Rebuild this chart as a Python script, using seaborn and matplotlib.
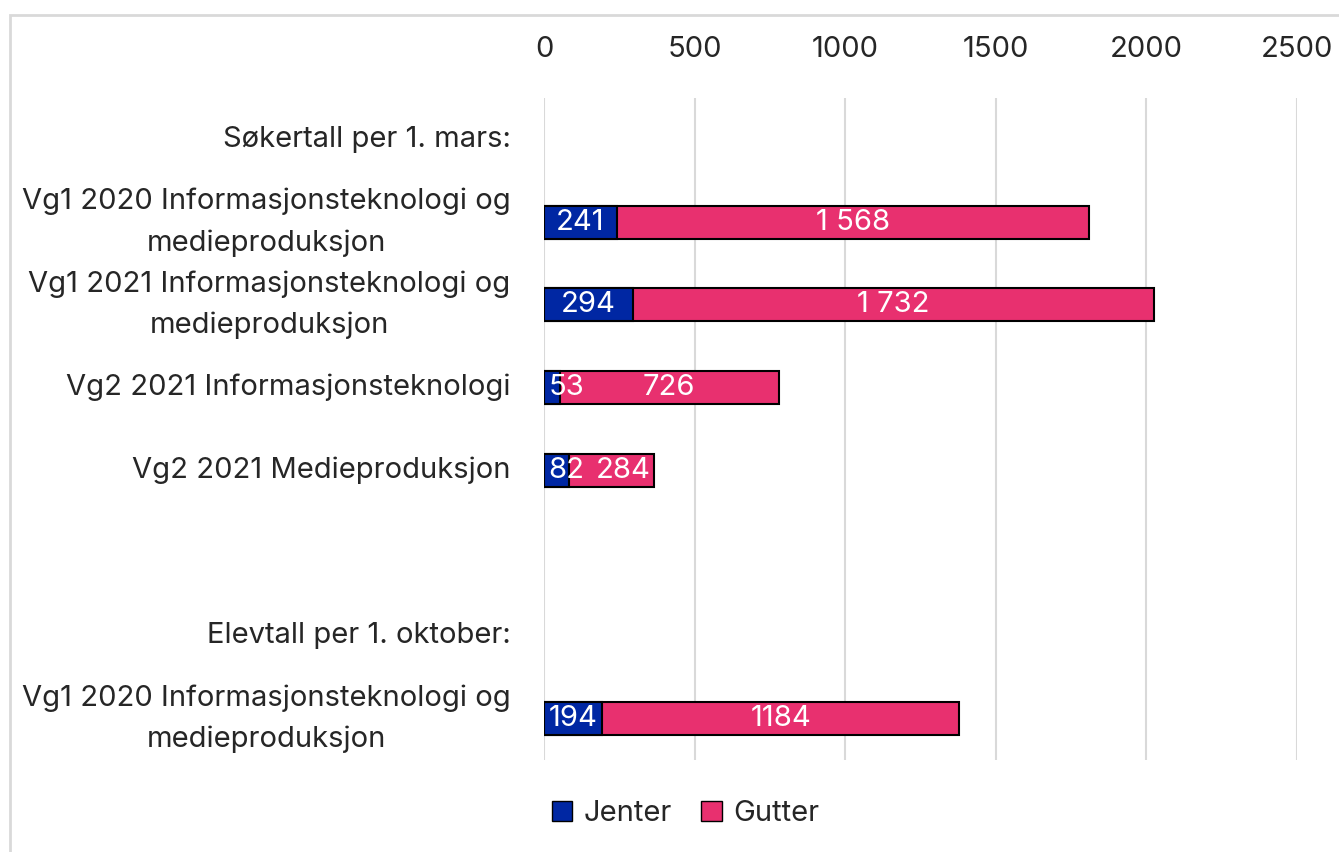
import matplotlib
matplotlib.use("Agg")
import matplotlib.pyplot as plt
from matplotlib.patches import Rectangle, Patch
import seaborn as sns
import pandas as pd

# rows of the chart, top to bottom (empty ones are header/spacer rows)
row_labels = ["Søkertall per 1. mars:",
              "Vg1 2020 Informasjonsteknologi og\nmedieproduksjon",
              "Vg1 2021 Informasjonsteknologi og\nmedieproduksjon",
              "Vg2 2021 Informasjonsteknologi",
              "Vg2 2021 Medieproduksjon",
              "",
              "Elevtall per 1. oktober:",
              "Vg1 2020 Informasjonsteknologi og\nmedieproduksjon"]

# rows that carry bars
bar_rows = [1, 2, 3, 4, 7]
jenter = [241, 294, 53, 82, 194]
gutter = [1568, 1732, 726, 284, 1184]
jenter_text = ["241", "294", "53", "82", "194"]
gutter_text = ["1 568", "1 732", "726", "284", "1184"]

x_ticks = [0, 500, 1000, 1500, 2000, 2500]

blue = "#0027A3"
pink = "#E8306F"
fs = 21

df = pd.DataFrame({"row": bar_rows, "Jenter": jenter, "Gutter": gutter})
df["total"] = df["Jenter"] + df["Gutter"]

sns.set_style("white")
plt.rcParams["font.family"] = ["Inter", "DejaVu Sans"]

fig = plt.figure(figsize=(13.39, 8.52), dpi=100)
ax = fig.add_axes([0.4063, 0.108, 0.9686 - 0.4063, 0.885 - 0.108])

# stacked bars: full total in pink, girls drawn over it in blue
sns.barplot(data=df, x="total", y="row", orient="h", native_scale=True,
            color=pink, saturation=1, width=0.4, edgecolor="black",
            linewidth=1.5, ax=ax)
sns.barplot(data=df, x="Jenter", y="row", orient="h", native_scale=True,
            color=blue, saturation=1, width=0.4, edgecolor="black",
            linewidth=1.5, ax=ax)

ax.set_xlim(0, 2500)
ax.set_ylim(7.5, -0.5)

label_pairs = []
for r, j, g, jt, gt in zip(bar_rows, jenter, gutter, jenter_text, gutter_text):
    if j < 100:
        # too narrow for the label: start it just inside the bar, like Excel
        t1 = ax.annotate(jt, (0, r), xytext=(3, 0), textcoords="offset points",
                         color="white", fontsize=fs, ha="left", va="center")
    else:
        t1 = ax.text(j / 2, r, jt, color="white", fontsize=fs, ha="center", va="center")
    t2 = ax.text(j + g / 2, r, gt, color="white", fontsize=fs, ha="center", va="center")
    label_pairs.append((t1, t2))

# nudge the boys' label right when it would run into the girls' label
fig.canvas.draw()
renderer = fig.canvas.get_renderer()
for t1, t2 in label_pairs:
    e1 = t1.get_window_extent(renderer)
    e2 = t2.get_window_extent(renderer)
    gap = 12
    if e2.x0 < e1.x1 + gap:
        shift = e1.x1 + gap - e2.x0
        x_disp = ax.transData.transform((t2.get_position()[0], 0))[0] + shift
        t2.set_x(ax.transData.inverted().transform((x_disp, 0))[0])

ax.set_xticks(x_ticks)
ax.set_yticks(range(len(row_labels)))
ax.set_yticklabels(row_labels, fontsize=fs, multialignment="center",
                   linespacing=1.65, va="center")
ax.xaxis.tick_top()
ax.tick_params(axis="x", labelsize=fs, length=0, pad=25)
ax.tick_params(axis="y", length=0, pad=24)
ax.set_xlabel("")
ax.set_ylabel("")
ax.grid(axis="x", color="#D9D9D9", linewidth=1.5)
ax.set_axisbelow(True)
sns.despine(ax=ax, left=True, bottom=True, top=True, right=True)

handles = [Patch(facecolor=blue, edgecolor="black", label="Jenter"),
           Patch(facecolor=pink, edgecolor="black", label="Gutter")]
fig.legend(handles=handles, loc="center", bbox_to_anchor=(0.512, 0.045),
           ncol=2, frameon=False, fontsize=fs, handlelength=0.7,
           handleheight=0.7, handletextpad=0.4, columnspacing=1.0)

# light outer frame of the chart area
fig.add_artist(Rectangle((10 / 1339, -0.1), 1.2, 837 / 852 + 0.1,
                         transform=fig.transFigure, fill=False,
                         edgecolor="#D9D9D9", linewidth=2))

fig.savefig("out.png", dpi=100)
